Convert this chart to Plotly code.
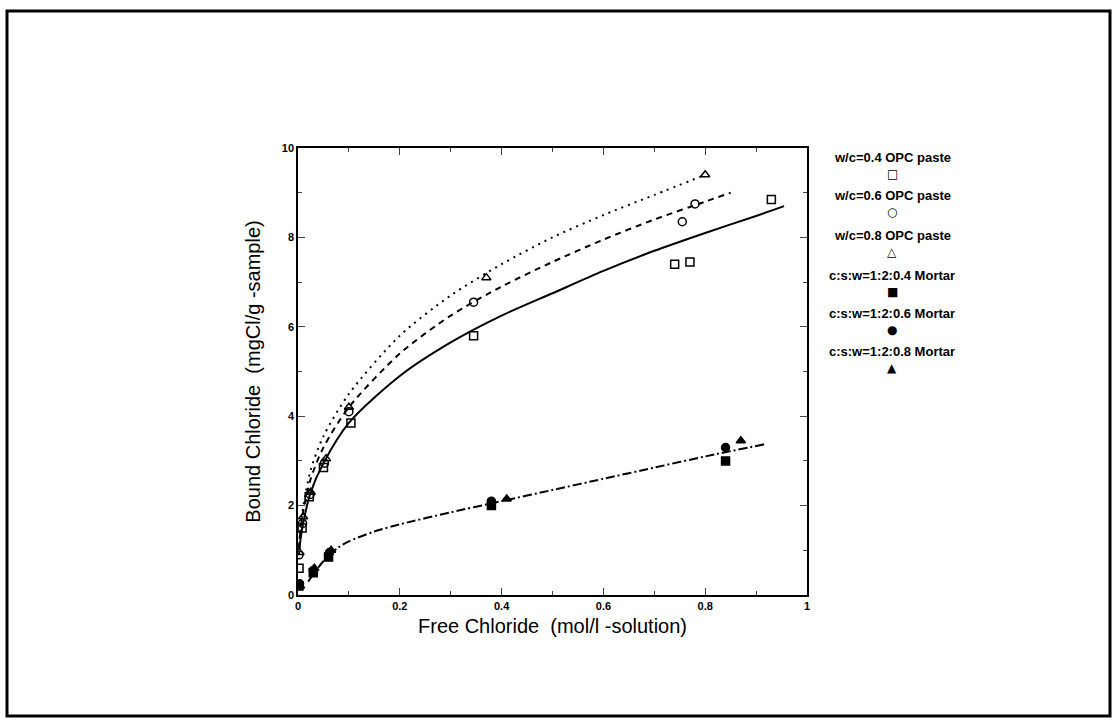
import plotly.graph_objects as go

# ---- data ----
wc04_x = [0.002, 0.008, 0.022, 0.050, 0.104, 0.345, 0.740, 0.770, 0.930]
wc04_y = [0.60, 1.50, 2.20, 2.85, 3.85, 5.80, 7.40, 7.45, 8.85]
wc06_x = [0.002, 0.009, 0.024, 0.052, 0.100, 0.345, 0.755, 0.780]
wc06_y = [0.90, 1.60, 2.25, 2.95, 4.10, 6.55, 8.35, 8.75]
wc08_x = [0.003, 0.010, 0.025, 0.055, 0.100, 0.370, 0.800]
wc08_y = [0.95, 1.75, 2.30, 3.05, 4.20, 7.10, 9.40]

m04_x = [0.002, 0.030, 0.060, 0.380, 0.840]
m04_y = [0.20, 0.50, 0.85, 2.00, 3.00]
m06_x = [0.003, 0.030, 0.062, 0.380, 0.840]
m06_y = [0.25, 0.55, 0.95, 2.10, 3.30]
m08_x = [0.004, 0.032, 0.065, 0.410, 0.870]
m08_y = [0.20, 0.60, 1.00, 2.15, 3.45]

# fitted curves
fit04_x = [0.002, 0.005, 0.01, 0.025, 0.05, 0.1, 0.2, 0.3, 0.4, 0.5, 0.6, 0.7, 0.8, 0.9, 0.955]
fit04_y = [0.90, 1.25, 1.60, 2.30, 2.95, 3.85, 4.90, 5.65, 6.25, 6.75, 7.25, 7.70, 8.10, 8.48, 8.70]
fit06_x = [0.002, 0.005, 0.01, 0.025, 0.05, 0.1, 0.2, 0.3, 0.4, 0.5, 0.6, 0.7, 0.8, 0.85]
fit06_y = [1.05, 1.45, 1.85, 2.60, 3.30, 4.20, 5.40, 6.25, 6.90, 7.45, 7.95, 8.40, 8.80, 9.00]
fit08_x = [0.002, 0.005, 0.01, 0.025, 0.05, 0.1, 0.2, 0.3, 0.4, 0.5, 0.6, 0.7, 0.8]
fit08_y = [1.10, 1.50, 1.95, 2.80, 3.55, 4.50, 5.80, 6.70, 7.40, 8.00, 8.50, 8.95, 9.40]
fitm_x = [0.02, 0.04, 0.06, 0.08, 0.1, 0.15, 0.2, 0.3, 0.4, 0.5, 0.6, 0.7, 0.8, 0.92]
fitm_y = [0.30, 0.62, 0.88, 1.07, 1.20, 1.42, 1.58, 1.85, 2.10, 2.35, 2.60, 2.85, 3.10, 3.38]

legend_labels = ["w/c=0.4 OPC paste", "w/c=0.6 OPC paste", "w/c=0.8 OPC paste",
                 "c:s:w=1:2:0.4 Mortar", "c:s:w=1:2:0.6 Mortar", "c:s:w=1:2:0.8 Mortar"]
legend_symbols = ["□", "○", "△", "■", "●", "▲"]

x_ticks = [0, 0.2, 0.4, 0.6, 0.8, 1]
x_tick_text = ["0", "0.2", "0.4", "0.6", "0.8", "1"]
y_ticks = [0, 2, 4, 6, 8, 10]

FONT = "Liberation Sans"
fig = go.Figure()

def curve(x, y, dash):
    fig.add_trace(go.Scatter(x=x, y=y, mode="lines",
                             line=dict(color="black", width=2, dash=dash, shape="spline", smoothing=0.8),
                             showlegend=False, hoverinfo="skip"))

curve(fit04_x, fit04_y, "solid")
curve(fit06_x, fit06_y, "6px,5px")
curve(fit08_x, fit08_y, "2px,5px")
curve(fitm_x, fitm_y, "9px,3px,2px,3px")

def pts(x, y, sym):
    fig.add_trace(go.Scatter(x=x, y=y, mode="markers",
                             marker=dict(symbol=sym, size=8, color="black", line=dict(color="black", width=1.5)),
                             showlegend=False))

pts(wc04_x, wc04_y, "square-open")
pts(wc06_x, wc06_y, "circle-open")
pts(wc08_x, wc08_y, "triangle-up-open")
pts(m04_x, m04_y, "square")
pts(m06_x, m06_y, "circle")
pts(m08_x, m08_y, "triangle-up")

# legend as text + symbol below
L, R, T, B = 298, 311, 148, 129
W, H = 1118, 724
pw, ph = W - L - R, H - T - B
leg_text_py = [157, 195, 235, 275, 313, 351]
for lab, sym, py in zip(legend_labels, legend_symbols, leg_text_py):
    fig.add_annotation(x=(892 - L) / pw, y=(H - B - py) / ph, xref="paper", yref="paper",
                       xanchor="center", yanchor="middle",
                       text=lab, showarrow=False, font=dict(family=FONT, size=13, color="black", weight="bold"))
    fig.add_annotation(x=(892 - L) / pw, y=(H - B - py - 17) / ph, xref="paper", yref="paper",
                       xanchor="center", yanchor="middle",
                       text=sym, showarrow=False, font=dict(family="DejaVu Sans", size=12, color="black"))

# outer frame
fig.add_shape(type="rect", xref="paper", yref="paper",
              x0=(7 - L) / pw, x1=(1110 - L) / pw, y0=(H - B - 716) / ph, y1=(H - B - 11) / ph,
              line=dict(color="black", width=3))

fig.update_xaxes(range=[0, 1], tickvals=x_ticks, ticktext=x_tick_text, ticks="inside", ticklen=7,
                 minor=dict(dtick=0.1, ticks="inside", ticklen=4), showline=True, linecolor="black", linewidth=1.5,
                 mirror="ticks", showgrid=False, zeroline=False,
                 tickfont=dict(family=FONT, size=11, color="black", weight="bold"),
                 title=dict(text="Free Chloride  (mol/l -solution)", font=dict(family=FONT, size=20, color="black"),
                            standoff=8))
fig.update_yaxes(range=[0, 10], tickvals=y_ticks, ticks="inside", ticklen=7,
                 minor=dict(dtick=1, ticks="inside", ticklen=4), showline=True, linecolor="black", linewidth=1.5,
                 mirror="ticks", showgrid=False, zeroline=False,
                 tickfont=dict(family=FONT, size=11, color="black", weight="bold"),
                 title=dict(text="Bound Chloride  (mgCl/g -sample)", font=dict(family=FONT, size=20, color="black"),
                            standoff=16))
fig.update_layout(width=W, height=H, margin=dict(l=L, r=R, t=T, b=B), plot_bgcolor="white",
                  paper_bgcolor="white", showlegend=False)
fig.write_html("out.html")
